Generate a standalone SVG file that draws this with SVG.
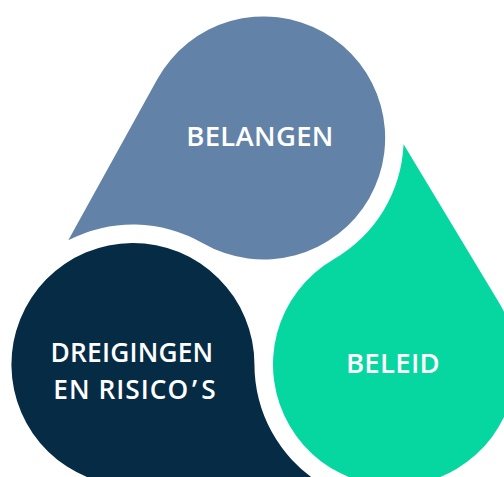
<svg xmlns="http://www.w3.org/2000/svg" width="504" height="477" viewBox="0 0 504 477">
  <style>
    .lbl { font-family: "Open Sans", "Liberation Sans", sans-serif; font-weight: 600; font-size: 27.5px; letter-spacing: 0.3px; fill: #ffffff; text-anchor: middle; }
    .lbl2 { font-size: 26.3px; letter-spacing: 0.2px; }
    .top { fill: #6283a7; }
    .right { fill: #06d6a0; }
    .left { fill: #052b45; }
  </style>
  <defs>
    <path id="drop" d="M 68.3 240.3 L 157.4 79.1 A 121.5 121.5 0 1 1 202.9 243.2 A 140 140 0 0 0 68.3 240.3 Z"/>
  </defs>
  <rect width="504" height="477" fill="#ffffff"/>
  <g id="connectors"></g>
  <g id="belangen">
    <use href="#drop" class="top"/>
    <text class="lbl" x="260" y="146">BELANGEN</text>
  </g>
  <g id="beleid">
    <use href="#drop" class="right" transform="rotate(120 263.7 289)"/>
    <text class="lbl" x="393" y="373">BELEID</text>
  </g>
  <g id="dreigingen">
    <use href="#drop" class="left" transform="rotate(240 263.7 289)"/>
    <text class="lbl lbl2" x="132" y="362">DREIGINGEN</text>
    <text class="lbl lbl2" x="135" y="399" style="letter-spacing:1px">EN RISICO<tspan dx="3">’</tspan><tspan dx="3">S</tspan></text>
  </g>
</svg>
